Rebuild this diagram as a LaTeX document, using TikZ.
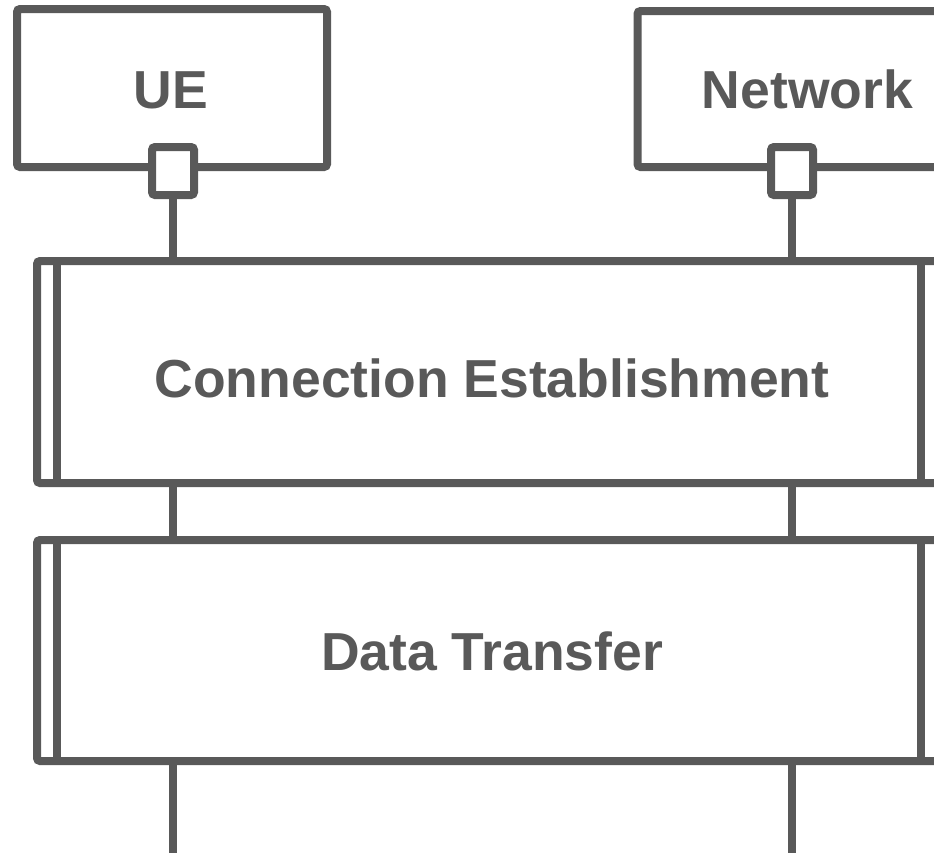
\documentclass[tikz,border=0pt]{standalone}
\usepackage{fontspec}
\setmainfont{Liberation Sans}
\definecolor{ink}{HTML}{595959}
\begin{document}
\begin{tikzpicture}[x=1pt,y=-1pt,
  every node/.style={inner sep=0pt, outer sep=0pt},
  frame/.style={draw=ink, line width=8pt, fill=white, rounded corners=3pt},
  actorbox/.style={frame, minimum width=310pt},
  port/.style={frame, minimum width=42pt, minimum height=48pt},
  phase/.style={frame, minimum width=904pt, minimum height=222pt},
  lifeline/.style={draw=ink, line width=8pt},
  edgebar/.style={draw=ink, line width=8pt},
  caption/.style={text=ink, font=\bfseries\fontsize{53.5}{60}\selectfont, anchor=base}
]
\useasboundingbox (0,0) rectangle (934,852);

% lifeline ends below the picture
\coordinate (ueend) at (173,860);
\coordinate (netend) at (792,860);

% actor boxes
\node[actorbox, minimum height=158pt] (ue) at (172,88) {};
\node[actorbox, minimum height=156pt] (net) at (792.5,89) {};
\node[caption] (uelabel) at (171,108) {UE};
\node[caption] (netlabel) at (807.5,108) {Network};

% ports on the actor boxes
\node[port] (ueport) at (173,171) {};
\node[port] (netport) at (792,171) {};

% lifelines
\draw[lifeline] (ueport.south) -- (ueend);
\draw[lifeline] (netport.south) -- (netend);

% phases
\node[phase] (ce) at (489,372) {};
\node[phase, minimum height=221pt] (dt) at (489,650.5) {};
\foreach \p in {ce,dt}{
  \draw[edgebar] ([xshift=20pt]\p.north west) -- ([xshift=20pt]\p.south west);
  \draw[edgebar] ([xshift=-20pt]\p.north east) -- ([xshift=-20pt]\p.south east);
}
\node[caption] (celabel) at (492,397) {Connection Establishment};
\node[caption] (dtlabel) at (492,670) {Data Transfer};
\end{tikzpicture}
\end{document}
